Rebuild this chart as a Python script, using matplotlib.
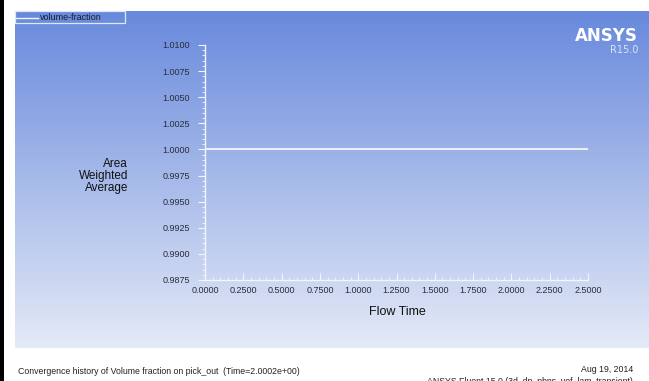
import numpy as np
import matplotlib
matplotlib.use("Agg")
import matplotlib.pyplot as plt
from matplotlib.patches import Rectangle
from matplotlib.ticker import MultipleLocator, AutoMinorLocator, FormatStrFormatter

plt.rcParams['font.family'] = ['Liberation Sans', 'DejaVu Sans']

# volume-fraction report on pick_out
flow_time = [0.0, 0.25, 0.5, 0.75, 1.0, 1.25, 1.5, 1.75, 2.0, 2.25, 2.5]
volume_fraction = [1.0, 1.0, 1.0, 1.0, 1.0, 1.0, 1.0, 1.0, 1.0, 1.0, 1.0]

series_name = "volume-fraction"
x_title = "Flow Time"
y_title = "Area\nWeighted\nAverage"
footer_left = "Convergence history of Volume fraction on pick_out  (Time=2.0002e+00)"
footer_date = "Aug 19, 2014"
footer_solver = "ANSYS Fluent 15.0 (3d, dp, pbns, vof, lam, transient)"

W, H = 649, 381
fig = plt.figure(figsize=(W / 100, H / 100), dpi=100)
fig.patch.set_facecolor("white")


def fx(px):
    return px / W


def fy(py):
    return 1 - py / H


# gradient background of the graphics window
bg = fig.add_axes([fx(15), fy(348), fx(W - 15), (348 - 11) / H])
top = np.array([104, 137, 220]) / 255
bottom = np.array([228, 234, 247]) / 255
t = np.linspace(0, 1, 256)[:, None]
grad = top * (1 - t) + bottom * t
bg.imshow(grad[:, None, :].repeat(2, axis=1), aspect="auto", extent=[0, 1, 0, 1])
bg.set_axis_off()

fig.patches.append(Rectangle((0, 0), fx(4), 1, transform=fig.transFigure,
                             facecolor="black", edgecolor="none", zorder=5))

ax = fig.add_axes([fx(205), fy(280), fx(588 - 205), (280 - 45) / H])
ax.patch.set_alpha(0)
ax.plot(flow_time, volume_fraction, color="#eef2f8", lw=1.4, solid_capstyle="butt")
ax.set_xlim(0, 2.5)
ax.set_ylim(0.9875, 1.01)
for s in ["top", "right"]:
    ax.spines[s].set_visible(False)
for s in ["left", "bottom"]:
    ax.spines[s].set_color("#f2f5fb")
    ax.spines[s].set_linewidth(1.0)

ax.xaxis.set_major_locator(MultipleLocator(0.25))
ax.xaxis.set_minor_locator(AutoMinorLocator(5))
ax.yaxis.set_major_locator(MultipleLocator(0.0025))
ax.yaxis.set_minor_locator(AutoMinorLocator(5))
ax.xaxis.set_major_formatter(FormatStrFormatter("%.4f"))
ax.yaxis.set_major_formatter(FormatStrFormatter("%.4f"))
ax.tick_params(axis="x", which="major", direction="in", length=5, color="#f2f5fb",
               labelsize=6.5, labelcolor="#2a2d3a", pad=4)
ax.tick_params(axis="x", which="minor", direction="in", length=2.5, color="#f2f5fb")
ax.tick_params(axis="y", which="major", direction="out", length=5, color="#f2f5fb",
               labelsize=6.5, labelcolor="#2a2d3a", pad=6)
ax.tick_params(axis="y", which="minor", direction="out", length=2.5, color="#f2f5fb")

fig.text(fx(397), fy(312), x_title, ha="center", va="center", fontsize=9, color="#111111")
fig.text(fx(128), fy(176), y_title, ha="right", va="center", fontsize=8.5,
         color="#111111", linespacing=0.95)

# legend box
fig.patches.append(Rectangle((fx(15), fy(23)), fx(110), 12 / H, transform=fig.transFigure,
                             facecolor="none", edgecolor="#dfe6f4", lw=0.9, zorder=4))
fig.lines.append(plt.Line2D([fx(16), fx(38)], [fy(17.5), fy(17.5)],
                            transform=fig.transFigure, color="#eef2fa", lw=1.0))
fig.text(fx(40), fy(17.5), series_name, ha="left", va="center", fontsize=6.5, color="#1c1f2c")

# logo
fig.text(fx(638), fy(36), "ANSYS", ha="right", va="center", fontsize=12,
         fontweight="bold", color="white", family=["DejaVu Sans"])
fig.text(fx(638), fy(50), "R15.0", ha="right", va="center", fontsize=7,
         color="#dce4f6", family=["DejaVu Sans"])

fig.text(fx(18), fy(371), footer_left, ha="left", va="center", fontsize=6.3, color="#222222")
fig.text(fx(633), fy(370), footer_date, ha="right", va="center", fontsize=6.3, color="#222222")
fig.text(fx(633), fy(381), footer_solver, ha="right", va="center", fontsize=6.3, color="#222222")

fig.savefig("out.png", dpi=100)
